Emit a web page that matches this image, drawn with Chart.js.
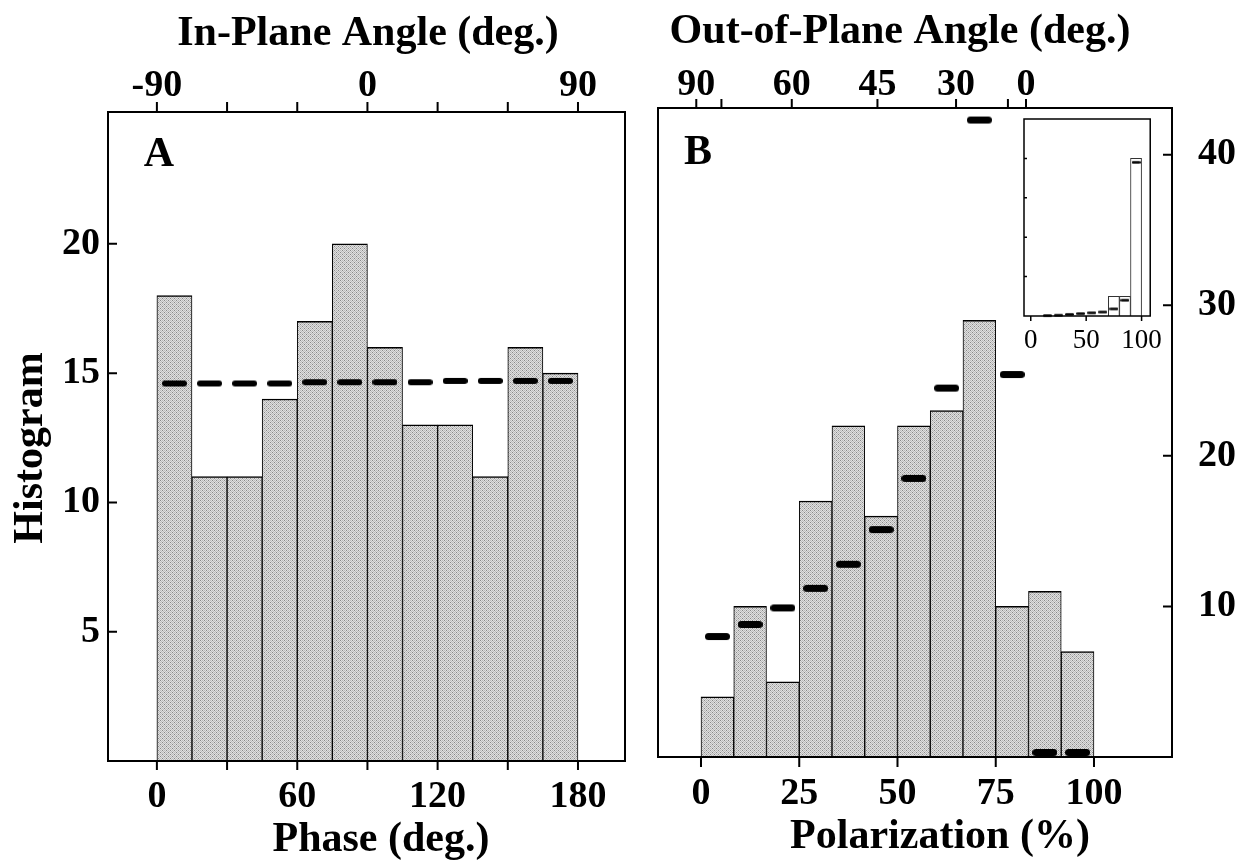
<!DOCTYPE html>
<html>
<head>
<meta charset="utf-8">
<script src="https://cdn.jsdelivr.net/npm/chart.js@4.4.1/dist/chart.umd.min.js"></script>
<style>
  html, body { margin: 0; padding: 0; background: #fff; }
  #fig { position: relative; width: 1246px; height: 863px; overflow: hidden; background: #fff; }
  .panel { position: absolute; }
</style>
</head>
<body>
<div id="fig">
  <div class="panel" style="left:0;top:0;width:640px;height:863px"><canvas id="panelA"></canvas></div>
  <div class="panel" style="left:640px;top:0;width:606px;height:863px"><canvas id="panelB"></canvas></div>
  <div class="panel" style="left:1004px;top:104px;width:168px;height:256px"><canvas id="inset"></canvas></div>
</div>
<script>
// Panel A: phase histogram (15 deg bins) with the uniform expectation
const phaseCenters = [7.5, 22.5, 37.5, 52.5, 67.5, 82.5, 97.5, 112.5, 127.5, 142.5, 157.5, 172.5];
const phaseCounts = [18, 11, 11, 14, 17, 20, 16, 13, 13, 11, 16, 15];
const phaseExpected = [14.6, 14.6, 14.6, 14.6, 14.65, 14.65, 14.65, 14.65, 14.7, 14.7, 14.7, 14.7];
const phaseTicks = [0, 30, 60, 90, 120, 150, 180];
const phaseTickLabels = ["0", "", "60", "", "120", "", "180"];
const inPlaneTicks = [-90, -60, -30, 0, 30, 60, 90];
const inPlaneTickLabels = ["-90", "", "", "0", "", "", "90"];
const countTicksA = [5, 10, 15, 20];

// Panel B: polarization histogram with model expectation
const polCenters = [4.17, 12.5, 20.83, 29.17, 37.5, 45.83, 54.17, 62.5, 70.83, 79.17, 87.5, 95.83];
const polCounts = [4, 10, 5, 17, 22, 16, 22, 23, 29, 10, 11, 7];
const polExpected = [8.0, 8.8, 9.9, 11.2, 12.8, 15.1, 18.5, 24.5, 42.3, 25.4, 0.3, 0.3];
const polTicks = [0, 25, 50, 75, 100];
const polTickLabels = ["0", "25", "50", "75", "100"];
const outOfPlaneTicks = [-1.2, 5.2, 23.1, 44.9, 64.9, 78.1, 82.7];
const outOfPlaneLabels = ["90", "", "60", "45", "30", "", "0"];
const countTicksB = [10, 20, 30, 40];

// Inset of panel B
const insetCenters = [5, 15, 25, 35, 45, 55, 65, 75, 85, 95];
const insetCounts = [0, 0, 0, 0, 0, 0, 0, 0.5, 0.5, 4.0];
const insetModelCenters = [15, 25, 35, 45, 55, 65, 75, 85, 95];
const insetModel = [0.01, 0.02, 0.04, 0.06, 0.08, 0.1, 0.18, 0.4, 3.9];
const insetTicksX = [0, 50, 100];
const insetTicksY = [1, 2, 3, 4];

const SERIF = '"Liberation Serif", "Times New Roman", serif';
const tickFont = { family: SERIF, size: 38, weight: "bold" };
const titleFont = 'bold 42px ' + SERIF;

const toPoints = (xs, ys) => xs.map((x, i) => ({ x: x, y: ys[i] }));
const setTicks = values => scale => { scale.ticks = values.map(v => ({ value: v })); };
const fixHeight = h => scale => { scale.height = h; };
const fixWidth = w => scale => { scale.width = w; };

// short rounded bar used as the marker of the expectation values
function makeDash(len, thick) {
  const c = document.createElement("canvas");
  c.width = len;
  c.height = Math.ceil(thick) + 2;
  const g = c.getContext("2d");
  g.strokeStyle = "#000";
  g.lineWidth = thick;
  g.lineCap = "round";
  g.beginPath();
  g.moveTo(thick / 2, c.height / 2);
  g.lineTo(len - thick / 2, c.height / 2);
  g.stroke();
  return c;
}

// halftone grey tile for the bars
const stippleTile = (() => {
  const c = document.createElement("canvas");
  c.width = 4; c.height = 4;
  const g = c.getContext("2d");
  const D = "#888888", M = "#bababa", L = "#e0e0e0";
  const rows = [[D, L, M, L], [L, M, L, M], [M, L, D, L], [L, M, L, M]];
  rows.forEach((row, y) => row.forEach((col, x) => { g.fillStyle = col; g.fillRect(x, y, 1, 1); }));
  return c;
})();
const stipple = ctx => ctx.chart.ctx.createPattern(stippleTile, "repeat");

// box round the plot area plus tick marks (negative length = inward)
const frame = {
  id: "frame",
  beforeDatasetsDraw(chart, args, opts) {
    if (!opts.fill) return;
    const { ctx, chartArea: a } = chart;
    ctx.save();
    ctx.fillStyle = "#fff";
    ctx.fillRect(a.left, a.top, a.right - a.left, a.bottom - a.top);
    ctx.restore();
  },
  afterDatasetsDraw(chart, args, opts) {
    const { ctx, chartArea: a } = chart;
    ctx.save();
    ctx.strokeStyle = "#000";
    ctx.lineWidth = opts.lineWidth || 2;
    ctx.strokeRect(a.left, a.top, a.right - a.left, a.bottom - a.top);
    ctx.lineWidth = opts.tickWidth || 2;
    (opts.marks || []).forEach(m => {
      const scale = chart.scales[m.axis];
      ctx.beginPath();
      scale.ticks.forEach(t => {
        const p = scale.getPixelForValue(t.value);
        if (m.side === "bottom") { ctx.moveTo(p, a.bottom); ctx.lineTo(p, a.bottom + m.len); }
        else if (m.side === "top") { ctx.moveTo(p, a.top); ctx.lineTo(p, a.top - m.len); }
        else if (m.side === "left") { ctx.moveTo(a.left, p); ctx.lineTo(a.left - m.len, p); }
        else { ctx.moveTo(a.right, p); ctx.lineTo(a.right + m.len, p); }
      });
      ctx.stroke();
    });
    ctx.restore();
  }
};

// axis titles and panel letters
const captions = {
  id: "captions",
  afterDraw(chart, args, opts) {
    const ctx = chart.ctx;
    (opts.items || []).forEach(it => {
      ctx.save();
      ctx.fillStyle = "#000";
      ctx.font = it.font || titleFont;
      ctx.textAlign = "center";
      ctx.textBaseline = "alphabetic";
      ctx.translate(it.x, it.y);
      if (it.rotate) ctx.rotate(it.rotate);
      ctx.fillText(it.text, 0, 0);
      ctx.restore();
    });
  }
};

function axis(extra) {
  const base = {
    type: "linear",
    offset: false,
    grid: { display: false, drawTicks: false },
    border: { display: false },
    ticks: { autoSkip: false, maxRotation: 0, minRotation: 0, color: "#000", font: tickFont }
  };
  const t = Object.assign({}, base.ticks, extra.ticks || {});
  return Object.assign(base, extra, { ticks: t });
}

const common = {
  responsive: true,
  maintainAspectRatio: false,
  animation: false,
  events: []
};

// ---- panel A
new Chart(document.getElementById("panelA"), {
  type: "bar",
  data: {
    datasets: [
      {
        type: "line",
        data: toPoints(phaseCenters, phaseExpected),
        xAxisID: "x", yAxisID: "y",
        showLine: false,
        pointStyle: makeDash(25, 6),
        pointRadius: 12,
        clip: false,
        order: 0
      },
      {
        data: toPoints(phaseCenters, phaseCounts),
        xAxisID: "x", yAxisID: "y",
        backgroundColor: stipple,
        borderColor: "#000",
        borderWidth: { top: 1.5, left: 1, right: 1, bottom: 0 },
        barPercentage: 1,
        categoryPercentage: 1,
        order: 1
      }
    ]
  },
  options: Object.assign({}, common, {
    layout: { padding: { left: 0, right: 15, top: 0, bottom: 0 } },
    plugins: {
      legend: { display: false },
      tooltip: { enabled: false },
      frame: {
        marks: [
          { axis: "x", side: "bottom", len: 9 },
          { axis: "x2", side: "top", len: 10 },
          { axis: "y", side: "left", len: -9 }
        ]
      },
      captions: {
        items: [
          { text: "In-Plane Angle (deg.)", x: 368, y: 45 },
          { text: "Phase (deg.)", x: 381, y: 851 },
          { text: "Histogram", x: 42, y: 448, rotate: -Math.PI / 2 },
          { text: "A", x: 159, y: 166 }
        ]
      }
    },
    scales: {
      x: axis({
        position: "bottom", min: -20.9, max: 200.1,
        afterBuildTicks: setTicks(phaseTicks), afterFit: fixHeight(102),
        ticks: { padding: 13, callback: (v, i) => phaseTickLabels[i] }
      }),
      x2: axis({
        position: "top", min: -110.9, max: 110.1,
        afterBuildTicks: setTicks(inPlaneTicks), afterFit: fixHeight(112),
        ticks: { padding: 3.5, callback: (v, i) => inPlaneTickLabels[i] }
      }),
      y: axis({
        position: "left", min: 0, max: 25.1,
        afterBuildTicks: setTicks(countTicksA), afterFit: fixWidth(108),
        ticks: { padding: 8, callback: v => String(v) }
      })
    }
  }),
  plugins: [frame, captions]
});

// ---- panel B
new Chart(document.getElementById("panelB"), {
  type: "bar",
  data: {
    datasets: [
      {
        type: "line",
        data: toPoints(polCenters, polExpected),
        xAxisID: "x", yAxisID: "y",
        showLine: false,
        pointStyle: makeDash(25, 7),
        pointRadius: 12,
        clip: false,
        order: 0
      },
      {
        data: toPoints(polCenters, polCounts),
        xAxisID: "x", yAxisID: "y",
        backgroundColor: stipple,
        borderColor: "#000",
        borderWidth: { top: 1.5, left: 1, right: 1, bottom: 0 },
        barPercentage: 1,
        categoryPercentage: 1,
        order: 1
      }
    ]
  },
  options: Object.assign({}, common, {
    layout: { padding: { left: 18, right: 0, top: 0, bottom: 0 } },
    plugins: {
      legend: { display: false },
      tooltip: { enabled: false },
      frame: {
        marks: [
          { axis: "x", side: "bottom", len: 10 },
          { axis: "x2", side: "top", len: 9 },
          { axis: "y", side: "right", len: -9 }
        ]
      },
      captions: {
        items: [
          { text: "Out-of-Plane Angle (deg.)", x: 260, y: 43 },
          { text: "Polarization (%)", x: 300, y: 848 },
          { text: "B", x: 58, y: 164 }
        ]
      }
    },
    scales: {
      x: axis({
        position: "bottom", min: -10.94, max: 119.85,
        afterBuildTicks: setTicks(polTicks), afterFit: fixHeight(106),
        ticks: { padding: 14, callback: (v, i) => polTickLabels[i] }
      }),
      x2: axis({
        position: "top", min: -10.94, max: 119.85,
        afterBuildTicks: setTicks(outOfPlaneTicks), afterFit: fixHeight(108),
        ticks: { padding: 0, callback: (v, i) => outOfPlaneLabels[i] }
      }),
      y: axis({
        position: "right", min: 0, max: 43.1,
        afterBuildTicks: setTicks(countTicksB), afterFit: fixWidth(74),
        ticks: { padding: 26, callback: v => String(v) }
      })
    }
  }),
  plugins: [frame, captions]
});

// ---- inset
new Chart(document.getElementById("inset"), {
  type: "bar",
  data: {
    datasets: [
      {
        type: "line",
        data: toPoints(insetModelCenters, insetModel),
        xAxisID: "x", yAxisID: "y",
        showLine: false,
        pointStyle: makeDash(9, 2.5),
        pointRadius: 5,
        clip: false,
        order: 0
      },
      {
        data: toPoints(insetCenters, insetCounts),
        xAxisID: "x", yAxisID: "y",
        backgroundColor: "#fff",
        borderColor: "#333",
        borderWidth: { top: 1, left: 1, right: 1, bottom: 0 },
        barPercentage: 1,
        categoryPercentage: 1,
        order: 1
      }
    ]
  },
  options: Object.assign({}, common, {
    layout: { padding: { left: 20, right: 17, top: 15, bottom: 0 } },
    plugins: {
      legend: { display: false },
      tooltip: { enabled: false },
      frame: {
        fill: true,
        lineWidth: 1.5,
        tickWidth: 1.5,
        marks: [
          { axis: "x", side: "bottom", len: 5 },
          { axis: "y", side: "left", len: -3 }
        ]
      }
    },
    scales: {
      x: axis({
        position: "bottom", min: -6.1, max: 107.8,
        afterBuildTicks: setTicks(insetTicksX), afterFit: fixHeight(44),
        ticks: { padding: 9, font: { family: SERIF, size: 27, weight: "normal" }, callback: v => String(v) }
      }),
      y: axis({
        position: "left", min: 0, max: 5,
        afterBuildTicks: setTicks(insetTicksY), afterFit: fixWidth(0),
        ticks: { display: false }
      })
    }
  }),
  plugins: [frame]
});
</script>
</body>
</html>
